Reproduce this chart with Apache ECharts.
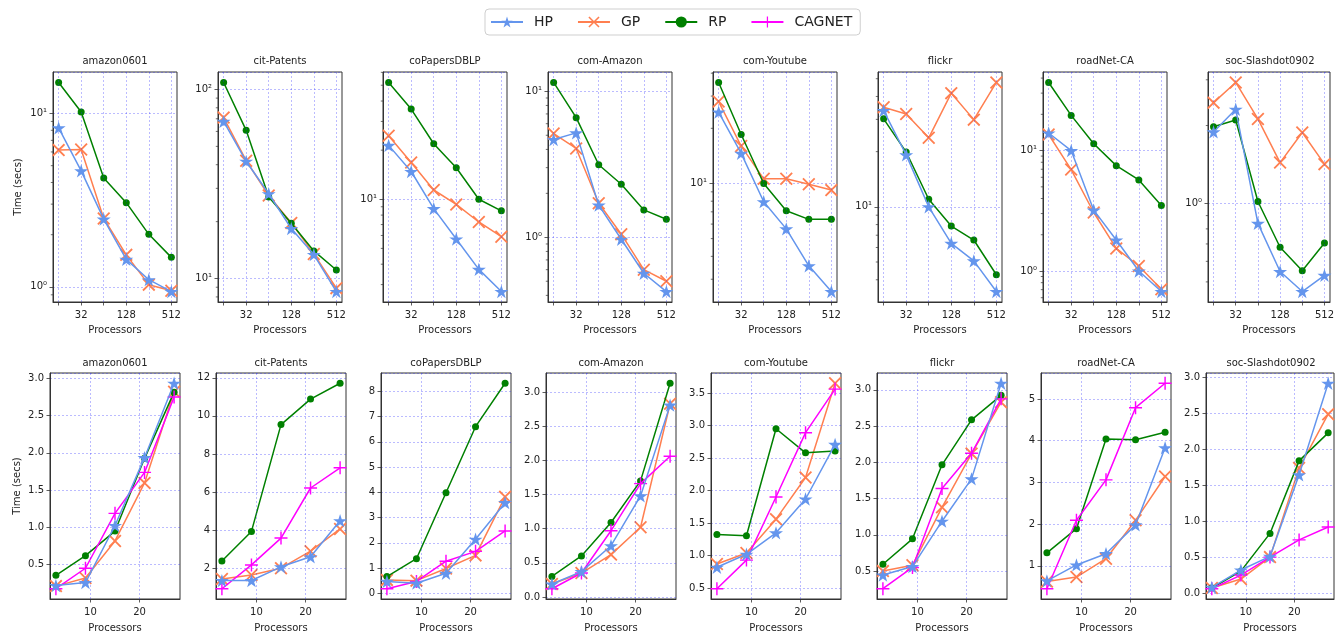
<!DOCTYPE html>
<html><head><meta charset="utf-8">
<script src="https://cdn.jsdelivr.net/npm/echarts@6/dist/echarts.min.js"></script>
<style>html,body{margin:0;padding:0;background:#fff}#c{width:1337px;height:634px}</style>
</head><body><div id="c"></div>
<script>
const FONT = 'DejaVu Sans';
const datasets = ['amazon0601','cit-Patents','coPapersDBLP','com-Amazon','com-Youtube','flickr','roadNet-CA','soc-Slashdot0902'];
const algorithms = ['HP','GP','RP','CAGNET'];
const procTop = [16,32,64,128,256,512];
const procTopLabels = [32,128,512];
const procBottom = [3,9,15,21,27];
const procBottomLabels = [10,20];
const bottomYDecimals = [1,0,0,1,1,1,0,1];
const bottomYSplit = [5,5,8,5,6,5,5,5];

// Top row (log scale), one row per dataset, values at procTop
const topHP = [
  [8.26, 4.67, 2.46, 1.44, 1.10, 0.94],
  [67.8, 41.7, 28.1, 18.4, 13.4, 8.54],
  [21.4, 14.8, 8.77, 5.71, 3.72, 2.72],
  [4.67, 5.19, 1.66, 0.97, 0.567, 0.425],
  [24.5, 14.6, 7.95, 5.65, 3.55, 2.57],
  [33.5, 19.2, 10.0, 6.32, 5.07, 3.45],
  [14.0, 10.0, 3.2, 1.81, 1.0, 0.675],
  [1.89, 2.31, 0.84, 0.548, 0.459, 0.53]
];
const topGP = [
  [6.15, 6.2, 2.48, 1.53, 1.03, 0.95],
  [71, 42, 27.5, 19.7, 13.5, 8.9],
  [24.5, 16.8, 11.4, 9.3, 7.26, 5.9],
  [5.14, 4.06, 1.71, 1.05, 0.60, 0.50],
  [28, 16, 10.6, 10.6, 9.9, 9.2],
  [34.9, 32.1, 23.8, 41.7, 29.9, 47.7],
  [13.6, 6.96, 3.06, 1.54, 1.1, 0.705],
  [2.45, 2.93, 2.12, 1.44, 1.88, 1.42]
];
const topRP = [
  [15.1, 10.2, 4.25, 3.06, 2.01, 1.48],
  [108.9, 60.8, 27.0, 19.6, 14.0, 11.1],
  [52, 35.7, 21.9, 15.6, 10.0, 8.5],
  [11.5, 6.6, 3.14, 2.31, 1.54, 1.33],
  [35.6, 18.5, 10.0, 7.1, 6.37, 6.37],
  [30.2, 19.9, 11.0, 7.85, 6.59, 4.26],
  [36.8, 19.6, 11.4, 7.5, 5.7, 3.5],
  [1.98, 2.10, 1.02, 0.68, 0.552, 0.706]
];

// Bottom row (linear), values at procBottom
const botHP = [
  [0.218, 0.258, 1.024, 1.935, 2.934],
  [1.35, 1.35, 2.07, 2.6, 4.49],
  [0.47, 0.40, 0.79, 2.14, 3.59],
  [0.19, 0.37, 0.75, 1.48, 2.81],
  [0.82, 1.02, 1.35, 1.87, 2.71],
  [0.446, 0.563, 1.188, 1.772, 3.09],
  [0.64, 1.02, 1.29, 1.98, 3.83],
  [0.08, 0.32, 0.51, 1.645, 2.92]
];
const botGP = [
  [0.21, 0.32, 0.817, 1.596, 2.82],
  [1.43, 1.64, 2.0, 2.89, 4.06],
  [0.53, 0.50, 0.98, 1.5, 3.82],
  [0.19, 0.35, 0.62, 1.02, 2.83],
  [0.87, 1.04, 1.56, 2.2, 3.65],
  [0.5, 0.58, 1.38, 2.12, 2.83],
  [0.625, 0.73, 1.17, 2.09, 3.14],
  [0.07, 0.195, 0.5, 1.74, 2.49]
];
const botRP = [
  [0.355, 0.619, 0.949, 1.926, 2.815],
  [2.38, 3.93, 9.54, 10.88, 11.71],
  [0.66, 1.37, 3.98, 6.6, 8.32],
  [0.30, 0.60, 1.09, 1.70, 3.13],
  [1.325, 1.305, 2.95, 2.58, 2.61],
  [0.594, 0.945, 1.966, 2.586, 2.924],
  [1.31, 1.89, 4.04, 4.02, 4.2],
  [0.07, 0.305, 0.83, 1.84, 2.23]
];
const botCAGNET = [
  [0.175, 0.45, 1.187, 1.737, 2.75],
  [0.92, 2.17, 3.58, 6.21, 7.27],
  [0.18, 0.47, 1.27, 1.66, 2.47],
  [0.12, 0.35, 0.97, 1.66, 2.06],
  [0.49, 0.93, 1.9, 2.89, 3.56],
  [0.257, 0.55, 1.638, 2.124, 2.875],
  [0.45, 2.09, 3.06, 4.79, 5.375],
  [0.06, 0.25, 0.5, 0.74, 0.92]
];

const colors = {HP:'#6495ED', GP:'#FF7F50', RP:'#008000', CAGNET:'#FF00FF'};

// ---------- layout ----------
const topLefts = [53,218,383,548,713,878,1043,1208], topW = 124, topY = 72, topH = 230;
const botLefts = [50,216,381,546,711,877,1041,1206], botW = 130, botY = 373, botH = 231;

// ---------- marker shapes ----------
function pathFrom(pts){ return 'path://' + pts.map((p,i)=>(i?'L':'M')+p[0].toFixed(2)+','+p[1].toFixed(2)).join('') + 'Z'; }
const starPts = [];
for (let k=0;k<10;k++){ const r = k%2 ? 19.1 : 50; const a = (90 + 36*k)*Math.PI/180; starPts.push([r*Math.cos(a), -r*Math.sin(a)]); }
const a = 5.5;
const plusPts = [[-a,-50],[a,-50],[a,-a],[50,-a],[50,a],[a,a],[a,50],[-a,50],[-a,a],[-50,a],[-50,-a],[-a,-a]];
const xPts = plusPts.map(([x,y])=>[(x-y)/Math.SQRT2,(x+y)/Math.SQRT2]);
const symbols = {
  HP: {symbol: pathFrom(starPts), symbolSize: 14, symbolKeepAspect: true},
  GP: {symbol: pathFrom(xPts), symbolSize: 13, symbolKeepAspect: true},
  RP: {symbol: 'circle', symbolSize: 7},
  CAGNET: {symbol: pathFrom(plusPts), symbolSize: 13, symbolKeepAspect: true}
};

// ---------- x categories (fine steps so that ticks/labels sit at true positions) ----------
const tspan = Math.log2(procTop[procTop.length-1]) - Math.log2(procTop[0]);
const topLo = Math.log2(procTop[0]) - 0.05*tspan;
const topHi = Math.log2(procTop[procTop.length-1]) + 0.05*tspan;
const topStep = 0.25;
const topCats = [];
for (let k=0; k<=Math.round((topHi-topLo)/topStep); k++) topCats.push((topLo + k*topStep).toFixed(2));
const topIdx = p => Math.round((Math.log2(p) - topLo)/topStep);
const isTopTick = v => { const e = +v; return Math.abs(e-Math.round(e))<1e-6 && procTop.includes(Math.pow(2, Math.round(e))); };
const topLabel = v => { const e = +v; const p = Math.pow(2, Math.round(e)); return (Math.abs(e-Math.round(e))<1e-6 && procTopLabels.includes(p)) ? String(p) : ''; };

const bspan = procBottom[procBottom.length-1] - procBottom[0];
const botLo = procBottom[0] - 0.05*bspan, botHi = procBottom[procBottom.length-1] + 0.05*bspan;
const botStep = 0.2;
const botCats = [];
for (let k=0; k<=Math.round((botHi-botLo)/botStep); k++) botCats.push((botLo + k*botStep).toFixed(1));
const botIdx = x => Math.round((x - botLo)/botStep);
const isBotTick = v => procBottomLabels.some(t => Math.abs(t - (+v)) < 1e-6);
const botLabel = v => isBotTick(v) ? String(Math.round(+v)) : '';

const SUP = {'0':'⁰','1':'¹','2':'²','3':'³','4':'⁴','5':'⁵','6':'⁶','7':'⁷','8':'⁸','9':'⁹','-':'⁻'};
const sup = n => String(n).split('').map(c=>SUP[c]).join('');

const gridLineStyle = {color:'rgba(40,40,255,0.45)', width:0.7, type:[2,2]};
const gridLine = {show:true, lineStyle: gridLineStyle};
const axisLineStyle = {show:true, onZero:false, lineStyle:{color:'#333', width:1}};
const tickStyle = {show:true, length:3.5, lineStyle:{color:'#333', width:0.8}};
const labelStyle = {color:'#222', fontSize:10, fontFamily:FONT};
const nameStyle = {fontSize:10, fontFamily:FONT, color:'#222'};

const grids = [], xAxes = [], yAxes = [], titles = [], series = [];

function addSeries(gi, alg, xs, ys, extra) {
  const orderZ = {GP:2, RP:3, CAGNET:4, HP:5};
  series.push(Object.assign({
    type:'line', name: alg, xAxisIndex: gi, yAxisIndex: gi,
    data: xs.map((x,j)=>[x, ys[j]]),
    lineStyle:{color: colors[alg], width:1.5},
    itemStyle:{color: colors[alg]},
    color: colors[alg],
    showSymbol:true, z: orderZ[alg], animation:false,
    emphasis:{disabled:true}
  }, symbols[alg], extra || {}));
}
function vGrid(cats, idxs) {
  return {markLine:{silent:true, symbol:'none', animation:false, label:{show:false},
    lineStyle: gridLineStyle, emphasis:{disabled:true},
    data: idxs.map(k => ({xAxis: cats[k]}))}};
}

datasets.forEach((name, i) => {
  // ---- top row ----
  const gi = i;
  grids.push({left: topLefts[i], top: topY, width: topW, height: topH, show:true, borderColor:'#333', borderWidth:1, backgroundColor:'transparent'});
  xAxes.push({type:'category', gridIndex: gi, data: topCats, boundaryGap:false,
    name:'Processors', nameLocation:'middle', nameGap:23, nameTextStyle: nameStyle,
    axisLine: axisLineStyle,
    axisTick: Object.assign({}, tickStyle, {interval:(idx, v)=>isTopTick(v)}),
    splitLine: {show:false},
    axisLabel: Object.assign({}, labelStyle, {interval:0, margin:8, formatter: v => topLabel(v)})
  });
  const allTop = topHP[i].concat(topGP[i], topRP[i]);
  const lmin = Math.log10(Math.min(...allTop)), lmax = Math.log10(Math.max(...allTop));
  const lm = 0.05*(lmax - lmin);
  const ymin = Math.pow(10, lmin - lm), ymax = Math.pow(10, lmax + lm);
  yAxes.push({type:'log', logBase:10, gridIndex: gi, min: ymin, max: ymax,
    name: i===0 ? 'Time (secs)' : '', nameLocation:'middle', nameGap: 30, nameTextStyle: nameStyle,
    axisLine: axisLineStyle, axisTick: tickStyle, splitLine: gridLine, minorTick:{show:false}, minorSplitLine:{show:false},
    axisLabel: Object.assign({}, labelStyle, {margin:6, showMinLabel:false, showMaxLabel:false, formatter: v => {
      const e = Math.log10(v), r = Math.round(e);
      return Math.abs(e-r) < 1e-6 ? '10' + sup(r) : '';
    }})
  });
  titles.push({text: name, left: topLefts[i] + topW/2, top: 56, textAlign:'center', padding:0,
    textStyle:{fontSize:10, fontWeight:'normal', color:'#222', fontFamily:FONT}});
  const xsTop = procTop.map(topIdx);
  addSeries(gi, 'GP', xsTop, topGP[i], vGrid(topCats, xsTop));
  addSeries(gi, 'RP', xsTop, topRP[i]);
  addSeries(gi, 'HP', xsTop, topHP[i]);
  // minor ticks of the log axis (axis decoration at 2..9 x 10^k)
  const minorTickValues = [];
  for (let k = Math.floor(Math.log10(ymin)); k <= Math.ceil(Math.log10(ymax)); k++)
    for (let m = 2; m <= 9; m++) { const v = m*Math.pow(10,k); if (v > ymin && v < ymax) minorTickValues.push(v); }
  series.push({type:'custom', name:'minor'+i, xAxisIndex: gi, yAxisIndex: gi, silent:true, clip:false, z:1, animation:false,
    data: minorTickValues.map(v=>[0, v]),
    renderItem: (params, api) => {
      const pt = api.coord([api.value(0), api.value(1)]);
      return {type:'line', shape:{x1:pt[0]-2.2, y1:pt[1], x2:pt[0], y2:pt[1]}, style:{stroke:'#333', lineWidth:0.7}};
    }
  });
});

datasets.forEach((name, i) => {
  // ---- bottom row ----
  const gi = 8 + i;
  grids.push({left: botLefts[i], top: botY, width: botW, height: botH, show:true, borderColor:'#333', borderWidth:1, backgroundColor:'transparent'});
  xAxes.push({type:'category', gridIndex: gi, data: botCats, boundaryGap:false,
    name:'Processors', nameLocation:'middle', nameGap:24, nameTextStyle: nameStyle,
    axisLine: axisLineStyle,
    axisTick: Object.assign({}, tickStyle, {interval:(idx, v)=>isBotTick(v)}),
    splitLine: {show:false},
    axisLabel: Object.assign({}, labelStyle, {interval:0, margin:8, formatter: v => botLabel(v)})
  });
  const all = botHP[i].concat(botGP[i], botRP[i], botCAGNET[i]);
  const mn = Math.min(...all), mx = Math.max(...all), m = 0.05*(mx-mn);
  const dec = bottomYDecimals[i];
  yAxes.push({type:'value', gridIndex: gi, min: mn - m, max: mx + m, splitNumber: bottomYSplit[i],
    name: i===0 ? 'Time (secs)' : '', nameLocation:'middle', nameGap: 28, nameTextStyle: nameStyle,
    axisLine: axisLineStyle, axisTick: tickStyle, splitLine: gridLine,
    axisLabel: Object.assign({}, labelStyle, {margin:6, showMinLabel:false, showMaxLabel:false, formatter: v => (+v).toFixed(dec)})
  });
  titles.push({text: name, left: botLefts[i] + botW/2, top: 358, textAlign:'center', padding:0,
    textStyle:{fontSize:10, fontWeight:'normal', color:'#222', fontFamily:FONT}});
  const xsBot = procBottom.map(botIdx);
  const tickIdx = procBottomLabels.map(botIdx);
  addSeries(gi, 'GP', xsBot, botGP[i], vGrid(botCats, tickIdx));
  addSeries(gi, 'RP', xsBot, botRP[i]);
  addSeries(gi, 'CAGNET', xsBot, botCAGNET[i]);
  addSeries(gi, 'HP', xsBot, botHP[i]);
});

const chart = echarts.init(document.getElementById('c'), null, {renderer:'canvas'});
chart.setOption({
  animation:false,
  backgroundColor:'#fff',
  textStyle:{fontFamily:FONT},
  title: titles,
  legend: {data: algorithms, left: 485, top: 9, orient:'horizontal',
    itemWidth: 32, itemHeight: 14, itemGap: 24,
    padding:[6,8,6,5], borderColor:'#cfcfcf', borderWidth:1, borderRadius:4,
    textStyle:{fontSize:14, color:'#222', fontFamily:FONT, padding:[0,0,0,6]}},
  grid: grids, xAxis: xAxes, yAxis: yAxes, series: series
});
</script></body></html>
